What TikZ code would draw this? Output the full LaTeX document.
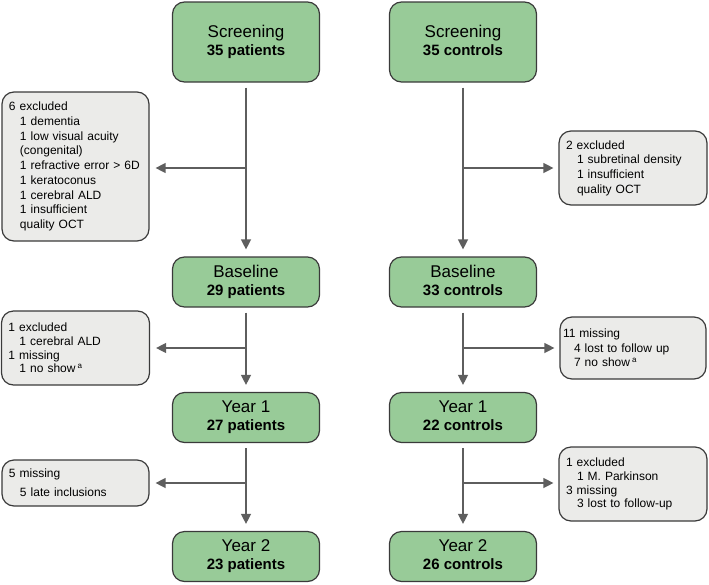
\documentclass[tikz,border=0pt]{standalone}
\usepackage{fontspec}
\setmainfont{Liberation Sans}
\usetikzlibrary{arrows.meta, positioning, calc}
\definecolor{stagegreen}{HTML}{98CB98}
\definecolor{exclgray}{HTML}{EBEBE9}
\definecolor{edgegray}{HTML}{3A3A3A}
\definecolor{flowgray}{HTML}{5E5E5E}
\newcommand{\cnt}[1]{\\[-1pt]{\fontsize{15}{17}\selectfont\bfseries #1\vphantom{p}}}
\newcommand{\subin}{\hspace*{11pt}}

\begin{document}
\begin{tikzpicture}[x=1pt, y=1pt,
  stage/.style={rectangle, rounded corners=12pt, draw=edgegray, fill=stagegreen, minimum width=147pt, minimum height=50pt, align=center, line width=1.2pt, font=\fontsize{17}{19}\selectfont},
  excl/.style={rectangle, rounded corners=12pt, draw=edgegray, fill=exclgray, align=left, line width=1.2pt, inner xsep=7pt, font=\fontsize{12}{14.7}\selectfont},
  flow/.style={-{Triangle[width=10pt, length=10pt]}, draw=flowgray, line width=1.3pt}
]
  \useasboundingbox (0,0) rectangle (709,-584);

  % patients
  \node[stage, minimum height=80pt] (scrp) at (246,-42) {Screening\cnt{35 patients}};
  \node[stage] (basp) at (246,-282) {Baseline\cnt{29 patients}};
  \node[stage] (yr1p) at (246,-417.5) {Year 1\cnt{27 patients}};
  \node[stage] (yr2p) at (246,-556.5) {Year 2\cnt{23 patients}};

  % controls
  \node[stage, minimum height=80pt] (scrc) at (463,-42) {Screening\cnt{35 controls}};
  \node[stage] (basc) at (463,-282) {Baseline\cnt{33 controls}};
  \node[stage] (yr1c) at (463,-417.5) {Year 1\cnt{22 controls}};
  \node[stage] (yr2c) at (463,-556.5) {Year 2\cnt{26 controls}};

  % exclusions
  \node[excl, text width=133pt, minimum height=149pt] (exp1) at (75.5,-166.5) {6 excluded\\
    \subin 1 dementia\\ \subin 1 low visual acuity\\ \subin (congenital)\\ \subin 1 refractive error > 6D\\
    \subin 1 keratoconus\\ \subin 1 cerebral ALD\\ \subin 1 insufficient\\ \subin quality OCT};
  \node[excl, text width=134pt, minimum height=74pt, font=\fontsize{12}{13.8}\selectfont] (exp2) at (75.5,-348) {1 excluded\\
    \subin 1 cerebral ALD\\ 1 missing\\ \subin 1 no show\,\textsuperscript{a}};
  \node[excl, text width=133pt, minimum height=46pt, font=\fontsize{12}{19}\selectfont] (exp3) at (75.5,-483) {5 missing\\ \subin 5 late inclusions};

  \node[excl, text width=134pt, minimum height=74pt] (exc1) at (633,-168) {2 excluded\\
    \subin 1 subretinal density\\ \subin 1 insufficient\\ \subin quality OCT};
  \node[excl, text width=140pt, inner xsep=3pt, minimum height=62pt] (exc2) at (633,-348) {11 missing\\
    \subin 4 lost to follow up\\ \subin 7 no show\,\textsuperscript{a}};
  \node[excl, text width=134pt, minimum height=74pt, font=\fontsize{12}{13.8}\selectfont] (exc3) at (633,-484) {1 excluded\\
    \subin 1 M. Parkinson\\ 3 missing\\ \subin 3 lost to follow-up};

  % branch points
  \coordinate (brp1) at (246,-168);
  \coordinate (brp2) at (246,-348);
  \coordinate (brp3) at (246,-483);
  \coordinate (brc1) at (463,-168);
  \coordinate (brc2) at (463,-348);
  \coordinate (brc3) at (463,-483);

  % main flow
  \draw[flow, shorten <=5pt, shorten >=7pt] (scrp) -- (basp);
  \draw[flow, shorten <=5pt, shorten >=7pt] (basp) -- (yr1p);
  \draw[flow, shorten <=5pt, shorten >=7pt] (yr1p) -- (yr2p);
  \draw[flow, shorten <=5pt, shorten >=7pt] (scrc) -- (basc);
  \draw[flow, shorten <=5pt, shorten >=7pt] (basc) -- (yr1c);
  \draw[flow, shorten <=5pt, shorten >=7pt] (yr1c) -- (yr2c);

  % side arrows
  \draw[flow, shorten >=6pt] (brp1) -- (brp1 -| exp1.east);
  \draw[flow, shorten >=6pt] (brp2) -- (brp2 -| exp2.east);
  \draw[flow, shorten >=6pt] (brp3) -- (brp3 -| exp3.east);
  \draw[flow, shorten >=5pt] (brc1) -- (brc1 -| exc1.west);
  \draw[flow, shorten >=5pt] (brc2) -- (brc2 -| exc2.west);
  \draw[flow, shorten >=5pt] (brc3) -- (brc3 -| exc3.west);
\end{tikzpicture}
\end{document}
